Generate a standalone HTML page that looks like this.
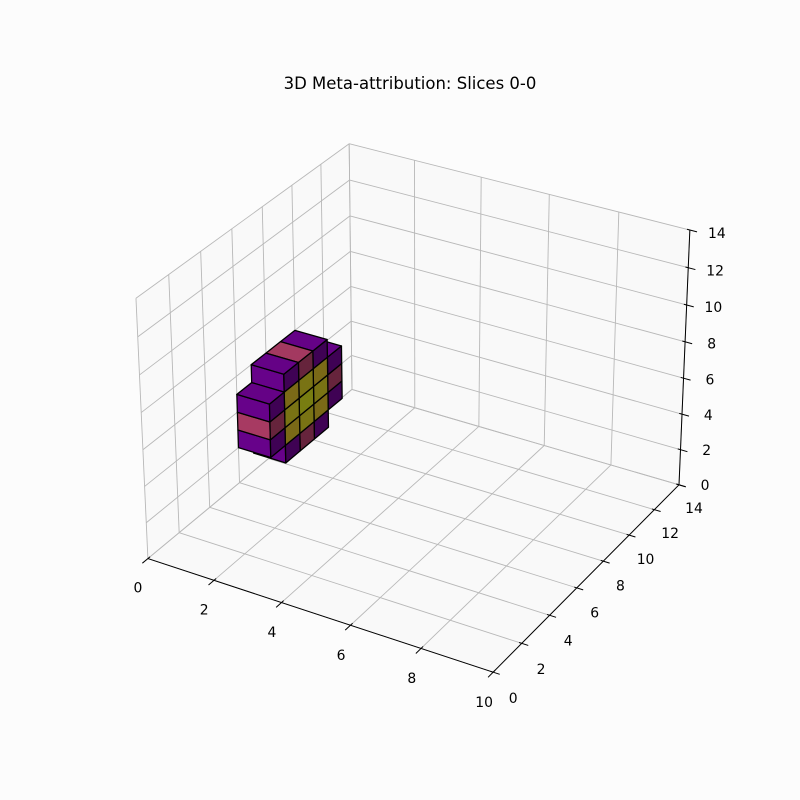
<!DOCTYPE html>
<html><head><meta charset="utf-8"><style>
html,body{margin:0;padding:0;background:#fcfcfc;}
svg{display:block;font-family:"DejaVu Sans","Liberation Sans",sans-serif;}
</style></head><body>
<svg id="chart" width="800" height="800" viewBox="0 0 800 800">
<rect width="800" height="800" fill="#fcfcfc"/>
<text x="410" y="89" text-anchor="middle" font-size="16.5" fill="#000">3D Meta-attribution: Slices 0-0</text>
<g id="panes"></g>
<g id="grid"></g>
<g id="axes"></g>
<g id="vox"></g>
</svg>
<script>
// axis ticks
const xTicks = [0,2,4,6,8,10];
const yTicks = [0,2,4,6,8,10,12,14];
const zTicks = [0,2,4,6,8,10,12,14];
// voxel slice (x = 0): columns along y, rows along z
const sliceX = 0;
const yStart = 6;
const zStart = 1;
// rows listed from lowest z to highest z; 0 = empty
const row0 = [0, 0.25, 0.5, 0.25, 0];
const row1 = [0.25, 0.9, 0.95, 0.9, 0.25];
const row2 = [0.5, 0.95, 1.0, 0.95, 0.5];
const row3 = [0.25, 0.9, 0.95, 0.9, 0.25];
const row4 = [0, 0.25, 0.5, 0.25, 0];
const rows = [row0,row1,row2,row3,row4];

// --- projection (homography fitted to cube corners) ---
const P3 = [[0,0,0],[10,0,0],[10,14,0],[0,14,0],[0,0,14],[0,14,14],[10,14,14]];
const P2 = [[148,559],[493,672],[679,485],[352,389],[136,298],[349,144],[690,230]];
function solve(){
  const A=[],b=[];
  for(let i=0;i<P3.length;i++){
    const [X,Y,Z]=P3[i],[u,v]=P2[i];
    A.push([X,Y,Z,1,0,0,0,0,-u*X,-u*Y,-u*Z]);b.push(u);
    A.push([0,0,0,0,X,Y,Z,1,-v*X,-v*Y,-v*Z]);b.push(v);
  }
  const n=11,M=[];
  for(let i=0;i<n;i++){M.push([]);for(let j=0;j<=n;j++){let s=0;for(let k=0;k<A.length;k++)s+=A[k][i]*(j<n?A[k][j]:b[k]);M[i].push(s);}}
  for(let i=0;i<n;i++){let p=i;for(let r=i+1;r<n;r++)if(Math.abs(M[r][i])>Math.abs(M[p][i]))p=r;[M[i],M[p]]=[M[p],M[i]];
    for(let r=0;r<n;r++){if(r===i)continue;const f=M[r][i]/M[i][i];for(let c=i;c<=n;c++)M[r][c]-=f*M[i][c];}}
  return M.map((r,i)=>r[n]/r[i]);
}
const H=solve();
function proj(X,Y,Z){const w=H[8]*X+H[9]*Y+H[10]*Z+1;return [(H[0]*X+H[1]*Y+H[2]*Z+H[3])/w,(H[4]*X+H[5]*Y+H[6]*Z+H[7])/w];}
const NS='http://www.w3.org/2000/svg';
function mk(tag,attrs,parent){const e=document.createElementNS(NS,tag);for(const k in attrs)e.setAttribute(k,attrs[k]);parent.appendChild(e);return e;}
function pts(arr){return arr.map(p=>{const q=proj(...p);return q[0].toFixed(2)+','+q[1].toFixed(2);}).join(' ');}

const panes=document.getElementById('panes'),grid=document.getElementById('grid'),axes=document.getElementById('axes'),vox=document.getElementById('vox');
// panes
[[[0,0,0],[0,14,0],[0,14,14],[0,0,14]],[[0,14,0],[10,14,0],[10,14,14],[0,14,14]],[[0,0,0],[10,0,0],[10,14,0],[0,14,0]]].forEach((q,i)=>{
  const e=mk('polygon',{points:pts(q),fill:'#f2f2f2','fill-opacity':0.2,stroke:'none'},panes);
  
  
});
function gl(a,b){const p=proj(...a),q=proj(...b);const e=mk('line',{x1:p[0],y1:p[1],x2:q[0],y2:q[1],stroke:'#b8b8b8','stroke-width':0.9},grid);
  
  }
xTicks.forEach(x=>{gl([x,0,0],[x,14,0]);gl([x,14,0],[x,14,14]);});
yTicks.forEach(y=>{gl([0,y,0],[10,y,0]);gl([0,y,0],[0,y,14]);});
zTicks.forEach(z=>{gl([0,0,z],[0,14,z]);gl([0,14,z],[10,14,z]);});
// axis lines
function al(a,b,name){const p=proj(...a),q=proj(...b);const e=mk('line',{x1:p[0],y1:p[1],x2:q[0],y2:q[1],stroke:'#000','stroke-width':1},axes);
  
  }
al([0,0,0],[10,0,0],'x-axis-line');al([10,0,0],[10,14,0],'y-axis-line');al([10,14,0],[10,14,14],'z-axis-line');
function tick(pt,d,lab,off,name){
  const p=proj(...pt),q=proj(pt[0]+d[0],pt[1]+d[1],pt[2]+d[2]),r=proj(pt[0]-d[0]*0.4,pt[1]-d[1]*0.4,pt[2]-d[2]*0.4);
  const t=mk('line',{x1:r[0],y1:r[1],x2:q[0],y2:q[1],stroke:'#000','stroke-width':1},axes);
  
  
  const e=mk('text',{x:p[0]+off[0],y:p[1]+off[1]+5,'font-size':13.9,'text-anchor':'middle',fill:'#000'},axes);
  e.textContent=lab;
  
  
}
xTicks.forEach(x=>{const f=x/10;tick([x,0,0],[0,-0.35,0],x,[-10+f,29+f],'x-tick-'+x);});
yTicks.forEach(y=>{const f=y/14;tick([10,y,0],[0.18,0,0],y,[20-5*f,26-3*f],'y-tick-'+y);});
zTicks.forEach(z=>{const f=z/14;tick([10,14,z],[0.2,0,0],z,[26+f,0+3*f],'z-tick-'+z);});

// plasma-like colormap
const cm=[[0,[13,8,135]],[0.25,[126,3,168]],[0.5,[204,71,120]],[0.75,[248,149,64]],[1,[240,249,33]]];
function cmap(v){for(let i=1;i<cm.length;i++){if(v<=cm[i][0]){const t=(v-cm[i-1][0])/(cm[i][0]-cm[i-1][0]);return cm[i-1][1].map((c,k)=>c+(cm[i][1][k]-c)*t);}}return cm[cm.length-1][1];}
function shade(c,f){return 'rgb('+c.map(v=>Math.round(v*f)).join(',')+')';}
function filled(r,c){return r>=0&&r<rows.length&&c>=0&&c<rows[r].length&&rows[r][c]>0;}
const list=[];
rows.forEach((row,r)=>row.forEach((v,c)=>{if(v>0)list.push([r,c,v]);}));
list.sort((a,b)=>(b[1]-a[1])||(a[0]-b[0]));
list.forEach(([r,c,v])=>{
  const x=sliceX,y=yStart+c,z=zStart+r,col=cmap(v);
  const g=mk('g',{},vox);
  
  
  const st={stroke:'#000','stroke-width':1.3,'stroke-linejoin':'round'};
  if(!filled(r,c-1)) mk('polygon',Object.assign({points:pts([[x,y,z],[x+1,y,z],[x+1,y,z+1],[x,y,z+1]]),fill:shade(col,0.82)},st),g);
  mk('polygon',Object.assign({points:pts([[x+1,y,z],[x+1,y+1,z],[x+1,y+1,z+1],[x+1,y,z+1]]),fill:shade(col,0.5)},st),g);
  if(!filled(r+1,c)) mk('polygon',Object.assign({points:pts([[x,y,z+1],[x+1,y,z+1],[x+1,y+1,z+1],[x,y+1,z+1]]),fill:shade(col,0.8)},st),g);
});
</script>
</body></html>
